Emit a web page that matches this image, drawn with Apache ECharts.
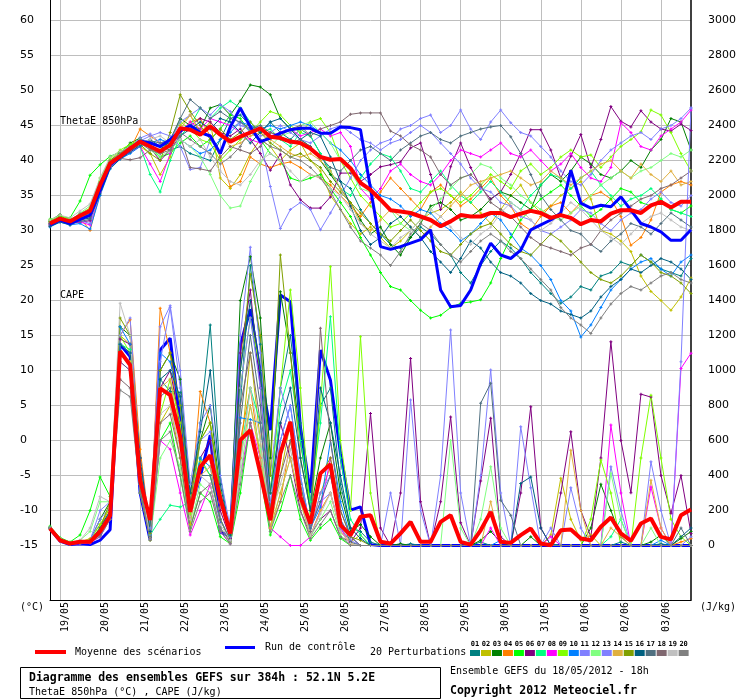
<!DOCTYPE html>
<html><head><meta charset="utf-8">
<script src="https://cdn.jsdelivr.net/npm/echarts@6/dist/echarts.min.js"></script>
<style>html,body{margin:0;padding:0;background:#fff}#c{width:740px;height:700px}</style>
</head><body><div id="c"></div>
<script>
// ---------- time categories ----------
const dayLabels = ['18/05','19/05','20/05','21/05','22/05','23/05','24/05','25/05','26/05','27/05','28/05','29/05','30/05','31/05','01/06','02/06','03/06'];
const hourLabels = ['00h','06h','12h','18h'];
const categories = ['18/05 18h'];
for (let d = 1; d < dayLabels.length; d++) for (const h of hourLabels) categories.push(dayLabels[d] + ' ' + h);

// ---------- ThetaE 850hPa (°C) ----------
const thetaMean = [31.0,31.7,31.3,32.1,32.8,36.5,39.6,40.6,41.7,42.7,42.0,41.3,42.2,44.6,44.4,43.7,44.9,43.7,42.7,43.4,44.0,44.6,43.4,43.2,42.7,42.5,41.7,40.5,40.1,40.2,38.9,36.8,35.8,34.4,32.9,32.7,32.5,32.0,31.5,30.6,31.3,32.2,32.0,32.0,32.5,32.5,31.9,32.4,32.8,32.5,31.8,32.2,31.8,30.9,31.5,31.3,32.4,32.9,32.9,32.5,33.6,34.1,33.3,34.1,34.1];
const thetaControl = [30.8,31.5,31.0,31.6,32.2,35.8,39.4,40.5,41.6,42.8,42.5,42.0,43.0, 44.2,45.0,44.0,43.5,41.0,44.8,47.5,44.8,42.7,43.2,43.9,44.4,44.6, 44.6,43.9,43.9,44.8,44.7,44.4,36.0,27.7,27.3,27.7,28.2,28.7,30.1, 21.5,19.1,19.3,21.5,25.3,28.2,26.5,26.0,27.2,30.1,30.8,31.5,32.5, 38.6,33.9,33.2,33.6,33.4,34.8,32.9,31.0,30.5,29.8,28.6,28.6,30.1];
const thetaP01 = [31.2,31.9,31.0,31.8,32.5,36.0,39.5,40.8,41.8,42.5,43.0,42.0,41.5, 42.0,41.0,40.5,40.0,43.0,46.0,46.5,45.0,44.0,45.5,44.0,43.0,44.5, 43.5,41.0,38.0,37.0,36.0,33.0,31.0,29.5,28.0,27.5,29.0,30.5,29.5, 28.0,26.5,24.0,22.5,25.0,27.0,28.5,27.5,26.0,24.0,22.5,21.0,19.6, 20.5,22.0,21.5,23.5,24.0,25.5,25.0,26.5,25.5,24.5,24.0,23.5,26.0];
const thetaP02 = [31.0,31.6,31.2,32.4,33.2,37.0,40.0,40.8,41.5,42.0,41.0,38.0,40.5, 45.0,46.5,44.0,45.5,37.5,36.0,38.0,41.0,43.0,42.0,40.0,41.5,42.5, 40.0,38.5,35.0,33.0,31.0,29.5,30.5,29.0,27.5,28.5,30.0,31.5,32.5, 33.0,34.0,35.5,34.0,32.5,31.0,33.0,35.0,36.5,34.0,32.5,33.5,35.0, 36.0,37.0,34.5,30.0,29.5,28.5,27.0,23.5,21.3,20.0,18.6,20.5,23.2];
const thetaP03 = [31.4,32.3,31.0,31.6,32.6,36.8,39.8,41.0,42.5,43.2,42.0,41.5,42.8, 46.0,45.0,44.5,47.5,48.0,46.5,48.5,50.8,50.5,49.4,46.0,44.5,43.0, 42.0,40.0,38.0,36.0,34.0,31.5,29.5,30.5,28.0,26.5,29.0,31.0,33.5, 34.0,33.0,31.5,32.0,33.0,34.5,35.5,35.0,34.0,33.0,36.5,38.0,37.0, 38.5,40.5,39.5,38.0,37.5,38.5,40.0,39.0,41.5,43.0,46.0,45.5,41.5];
const thetaP04 = [30.6,31.3,31.0,31.8,30.0,35.5,39.2,40.4,41.6,44.5,43.5,42.5,42.0, 44.0,45.5,46.0,43.5,40.5,36.3,37.0,40.5,39.5,39.0,39.5,39.8,39.0, 38.0,37.5,36.5,35.0,33.5,32.0,34.0,35.5,37.5,36.0,34.5,33.0,35.5, 36.5,35.0,33.5,34.5,36.0,37.5,35.0,33.5,31.0,30.0,32.0,33.5,34.0, 32.5,34.0,35.0,35.5,34.5,32.0,27.9,29.0,31.5,35.5,36.5,37.0,36.5];
const thetaP05 = [31.6,32.0,31.8,34.2,37.9,39.4,40.6,41.2,42.2,42.8,42.0,40.5,41.0, 42.5,43.5,42.0,43.0,44.5,46.5,46.0,44.0,43.0,41.0,40.0,37.5,37.0, 37.5,38.0,36.0,34.0,32.0,29.0,26.5,24.0,22.0,21.5,20.0,18.6,17.5, 17.9,19.0,19.6,19.8,20.1,22.5,26.0,29.0,31.5,33.0,34.5,35.5,36.5, 35.0,33.5,32.0,33.0,34.5,36.0,35.5,34.0,33.5,34.5,33.0,32.5,33.5];
const thetaP06 = [30.8,31.5,31.0,31.2,31.4,35.8,39.4,40.5,41.5,42.6,41.8,40.0,41.5, 44.5,45.0,46.0,45.5,44.0,43.5,44.5,43.0,41.0,38.6,40.9,36.5,34.4, 33.2,33.2,34.8,38.2,38.2,37.0,38.0,39.1,39.4,39.8,41.8,42.5,38.0, 33.0,39.1,42.5,39.0,36.2,34.5,35.5,38.0,41.0,44.4,44.4,41.5,37.5, 40.6,43.7,39.0,43.0,47.7,45.6,44.8,47.1,45.5,44.5,44.2,45.2,44.3];
const thetaP07 = [31.3,31.8,31.5,32.0,32.4,36.2,39.5,40.8,42.0,42.0,38.0,35.5,40.0, 43.5,45.0,47.5,46.0,47.5,48.5,47.5,45.5,44.0,44.5,43.0,42.0,44.0, 43.5,41.0,38.5,36.0,35.0,37.5,39.5,41.0,40.5,38.5,36.0,35.5,37.0, 38.5,36.5,35.0,34.0,35.5,37.0,35.5,34.0,33.0,35.0,36.5,38.0,37.5, 36.0,37.5,38.5,36.5,35.0,33.5,34.5,35.0,36.0,34.5,33.0,32.5,32.0];
const thetaP08 = [30.9,31.4,31.1,31.2,30.8,35.5,39.0,40.4,41.2,42.0,39.5,37.0,41.0, 44.0,45.5,44.5,46.0,45.5,45.0,44.0,43.0,42.5,43.5,44.0,44.5,43.5, 44.0,44.5,43.5,44.0,42.0,36.0,34.5,36.0,38.5,39.5,38.0,37.0,36.5, 38.0,40.0,41.5,41.0,40.5,41.5,42.5,41.0,40.5,41.5,40.0,38.5,39.5, 41.0,39.0,37.5,37.0,39.0,45.4,44.0,42.0,41.5,43.5,44.5,45.5,47.2];
const thetaP09 = [31.5,32.1,31.6,32.2,33.0,37.5,40.2,41.5,42.3,43.0,42.5,42.0,43.0, 45.5,44.5,43.0,42.5,40.0,41.5,43.0,44.0,45.5,47.0,46.5,45.0,44.0, 45.5,46.0,44.0,40.0,37.5,35.0,33.5,32.0,30.5,31.0,32.5,34.0,35.5, 36.0,35.0,34.0,35.0,36.5,38.0,37.0,36.0,38.5,39.5,38.0,39.0,40.5, 41.5,40.5,40.8,39.0,40.5,42.0,43.0,44.1,47.2,46.5,44.0,41.0,38.5];
const thetaP10 = [30.5,31.2,30.8,31.0,30.2,35.0,38.8,40.2,41.0,42.0,42.5,43.0,42.5, 43.0,42.0,41.0,41.5,43.0,44.0,45.5,45.0,44.5,45.0,44.5,45.0,45.5, 45.0,44.0,42.5,41.5,40.0,38.0,36.5,35.0,34.5,33.5,32.0,33.0,32.5, 31.0,30.0,28.5,29.5,31.0,32.5,31.5,29.5,27.5,26.5,25.0,23.0,20.0, 18.5,14.8,16.5,19.0,21.5,23.0,24.5,25.5,26.0,24.5,23.5,25.5,26.5];
const thetaP11 = [30.7,31.3,30.9,31.4,31.0,35.5,39.0,40.5,41.6,42.8,43.5,44.0,43.5, 42.0,38.7,39.0,43.0,41.0,44.5,45.5,44.0,43.0,36.3,30.3,33.0,34.0, 33.0,30.1,32.5,35.0,37.5,40.0,41.5,42.5,43.0,44.5,45.0,46.0,46.5, 44.0,45.0,47.2,44.5,43.0,45.5,47.2,45.4,44.0,43.5,42.0,40.5,38.5, 37.0,36.5,38.0,40.0,41.5,42.5,43.5,44.0,43.0,44.5,45.0,46.0,47.5];
const thetaP12 = [31.2,31.7,31.4,32.5,33.5,37.2,40.0,40.9,41.8,42.5,41.5,40.5,41.5, 43.0,42.0,40.5,38.0,35.0,33.2,33.5,37.0,39.5,42.0,43.5,44.0,45.0, 45.5,44.0,42.5,40.0,38.5,36.0,35.5,34.5,33.0,31.0,30.0,31.5,33.0, 34.5,36.0,37.5,38.0,39.5,39.0,37.5,36.5,35.0,34.0,33.0,32.0,31.5, 32.5,33.5,35.0,36.5,37.5,38.5,37.5,38.5,39.0,40.0,41.0,40.5,41.5];
const thetaP13 = [31.0,31.6,31.2,32.0,32.5,36.5,39.8,40.7,41.9,43.2,43.8,42.5,42.8, 45.5,46.5,47.5,46.5,48.0,47.0,45.0,44.5,43.5,44.0,45.0,44.0,43.0, 42.5,43.5,44.5,45.0,44.0,43.0,42.5,41.5,42.5,43.0,44.0,45.0,44.0, 42.5,41.0,39.5,37.5,36.0,35.5,34.0,33.5,32.0,31.5,30.0,29.5,30.5, 31.5,33.0,32.5,31.0,30.0,31.5,32.5,33.0,34.5,35.5,34.0,33.5,35.0];
const thetaP14 = [31.1,31.5,31.2,31.9,32.2,36.0,39.3,40.5,41.5,42.6,42.0,41.5,42.0, 44.5,46.5,44.0,45.0,44.0,42.0,42.5,43.5,44.0,43.0,42.0,41.0,40.5, 41.0,40.0,38.5,36.0,34.0,31.0,30.0,31.5,33.0,32.0,30.5,29.0,30.5, 32.0,33.5,35.0,36.5,37.0,37.5,38.0,38.5,37.5,36.5,37.0,38.5,37.5, 36.5,37.5,38.5,39.5,40.0,38.5,37.5,39.5,38.0,37.0,38.5,36.5,37.0];
const thetaP15 = [31.3,31.9,31.3,32.3,32.9,36.8,40.0,41.2,42.0,42.3,41.0,40.0,44.0, 49.4,47.0,45.0,43.0,44.5,43.0,44.0,45.5,44.0,42.5,41.5,40.5,41.0, 40.0,39.0,37.0,35.5,34.0,32.5,31.0,29.5,28.5,30.0,31.5,30.0,28.5, 27.0,26.5,28.0,29.5,30.5,31.0,29.5,28.0,27.0,26.5,28.0,29.5,28.5, 27.0,25.5,24.0,23.0,22.5,23.5,25.0,26.5,25.5,24.0,23.5,22.5,21.0];
const thetaP16 = [30.6,31.2,30.8,31.5,31.8,35.2,38.9,40.2,41.2,42.2,42.5,42.0,42.5, 43.5,44.5,45.5,44.5,46.0,45.5,44.0,42.5,44.0,45.5,46.0,44.5,43.0, 44.0,43.5,40.5,37.0,33.5,30.0,28.0,29.0,31.0,32.0,30.5,29.0,27.0, 25.5,24.0,26.0,28.5,27.5,25.5,24.0,23.5,22.5,21.0,20.0,19.5,18.5, 18.0,17.5,18.5,20.5,22.0,23.0,24.5,24.0,25.0,26.0,25.5,24.5,23.0];
const thetaP17 = [30.9,31.5,31.0,31.3,31.6,35.6,39.2,40.5,41.3,42.4,42.8,42.5,43.0, 46.0,48.7,47.5,46.0,47.0,46.0,45.5,44.5,45.0,44.0,43.5,42.5,43.0, 42.0,40.5,39.0,38.5,40.0,41.5,42.0,41.0,40.0,41.5,42.5,43.5,44.0, 43.0,42.5,43.5,44.0,44.5,44.8,45.0,43.4,41.0,38.0,35.0,33.0,31.5, 30.0,29.5,28.0,27.0,28.5,29.5,31.0,30.5,29.5,31.0,32.5,31.5,30.5];
const thetaP18 = [31.0,31.5,31.2,31.7,32.0,36.2,39.4,40.3,40.1,40.4,41.5,41.0,41.5, 43.5,39.0,38.8,38.5,40.5,42.0,41.5,41.0,42.0,44.0,43.5,44.5,45.0, 43.5,44.5,45.0,45.5,46.6,46.8,46.8,46.8,44.2,43.5,42.2,41.5,40.5, 38.0,36.5,37.5,38.0,36.5,34.0,33.0,32.0,30.5,29.0,28.0,27.5,27.0, 26.5,27.5,28.0,30.0,31.5,32.5,33.5,34.5,35.0,36.0,36.5,37.5,38.5];
const thetaP19 = [31.5,32.2,31.8,32.8,33.8,37.5,40.5,41.3,42.0,42.5,43.0,43.5,42.5, 43.0,42.0,43.0,40.5,38.5,37.0,36.5,38.0,40.0,41.0,40.0,38.5,37.0, 38.0,37.5,36.0,35.0,33.0,31.0,29.5,28.5,27.5,29.0,30.0,31.5,33.0, 32.0,30.5,29.0,28.0,29.5,30.5,32.5,34.0,33.0,31.5,30.0,31.0,32.5, 34.0,33.0,31.5,30.0,29.0,28.0,29.5,31.0,32.0,32.5,31.5,30.5,30.0];
const thetaP20 = [31.1,31.8,31.5,32.4,33.0,36.8,39.9,41.0,42.0,42.5,41.5,41.0,42.0, 44.0,43.0,42.0,41.0,39.5,40.5,42.0,44.5,43.0,42.0,41.5,40.5,40.0, 39.0,37.5,35.5,33.0,30.5,28.5,27.5,26.5,25.0,27.0,29.5,31.0,30.0, 28.0,26.5,25.5,27.0,28.5,29.5,28.5,27.0,26.0,24.5,23.0,21.5,19.0, 17.5,16.5,15.3,17.5,19.5,21.0,22.0,21.5,22.5,23.5,24.0,23.0,22.5];

// ---------- CAPE (J/kg) ----------
const capeMean = [97,30,11,21,21,80,170,1110,1031,373,145,898,859,621,192,450,516,269,69,602,659,412,145,526,707,278,126,412,465,116,59,164,173,21,11,69,135,21,21,135,173,21,5,87,192,21,15,59,97,11,2,87,91,40,30,107,160,69,27,126,154,49,35,173,206];
const capeControl = [95,25,5,10,5,30,90,1150,1080,300,30,1117,1184, 700,202,392,631,78,50,1145,1350,985,659,1431,1393,678, 300,1117,945,527,202,221,5,0,0,0,0,0,0, 0,0,0,0,0,0,0,0,0,0,0,0,0, 0,0,0,0,0,0,0,0,0,0,0,0,0];
const capeP01 = [100,35,10,15,25,60,200,1150,1100,450,60,950,880, 875,250,700,1260,400,50,800,1600,1150,300,900,1200,700, 250,800,900,350,100,80,20,0,0,0,10,0,0, 0,0,0,0,20,0,0,0,0,0,0,10,0, 0,0,0,0,0,20,0,0,0,10,0,0,0];
const capeP02 = [100,30,12,20,40,120,180,1200,1150,350,30,700,800, 500,120,480,400,150,20,500,1100,600,100,400,700,350, 80,300,450,100,20,60,0,0,0,0,0,0,0, 0,0,0,0,0,0,0,0,0,0,0,60,385, 150,30,60,0,0,0,0,0,0,0,0,0,0];
const capeP03 = [105,40,15,25,30,150,250,1250,1200,500,50,1000,1100, 950,300,600,800,300,80,1400,1650,1300,500,1450,1100,600, 200,500,700,300,80,120,50,0,0,10,0,0,0, 0,0,0,0,30,80,20,0,0,50,0,0,0, 0,0,100,350,200,50,0,0,20,60,0,40,80];
const capeP04 = [95,25,8,12,20,100,220,1200,1290,550,80,1356,1100, 600,200,880,700,250,30,600,900,500,100,250,600,300, 50,200,300,80,10,0,0,0,0,0,0,0,0, 0,0,0,0,0,0,0,0,0,0,0,0,0, 0,0,0,0,0,0,0,0,0,0,0,20,40];
const capeP05 = [110,45,20,60,200,392,280,1100,1050,300,40,600,700, 400,100,300,250,50,10,300,700,400,60,200,400,150, 30,100,150,40,0,0,0,0,0,0,0,0,0, 0,0,0,0,0,0,0,0,0,0,0,0,0, 0,0,0,0,0,0,0,0,0,0,0,0,0];
const capeP06 = [100,30,10,15,20,80,180,1180,1150,400,50,900,1000, 700,150,500,600,200,40,1100,1460,900,200,700,500,200, 60,150,200,50,20,100,754,100,0,300,1069,250,0, 250,735,130,0,368,727,50,0,300,793,100,0,300, 650,200,50,500,1164,600,301,865,848,400,184,400,69];
const capeP07 = [100,30,10,18,25,90,200,1150,1120,420,60,150,230, 220,250,500,400,150,30,500,900,700,200,800,1000,600, 250,700,1307,500,150,60,0,0,0,0,0,0,0, 0,0,0,0,0,0,0,0,0,0,0,0,0, 0,0,0,0,50,150,0,0,0,0,0,0,0];
const capeP08 = [100,25,8,10,15,50,150,1050,1000,350,40,600,550, 300,60,200,350,80,10,400,700,500,100,50,0,0, 50,200,500,100,0,0,0,0,0,0,0,0,0, 0,0,0,0,0,100,0,0,0,0,0,50,0, 0,0,0,0,688,300,0,0,335,100,0,1012,1099];
const capeP09 = [100,35,12,20,30,120,220,1200,1100,380,50,750,950, 700,180,600,700,300,60,900,1300,1000,300,900,1460,900, 150,800,1593,600,200,1193,300,0,0,0,0,0,0, 0,0,0,0,0,0,0,0,0,0,0,0,0, 0,0,150,488,300,0,0,500,859,500,150,50,0];
const capeP10 = [95,25,8,12,20,70,180,1250,1150,450,80,1100,1050, 800,220,500,450,150,30,730,720,700,150,600,800,400, 100,220,600,250,50,0,0,0,0,0,0,0,0, 0,0,0,0,0,0,30,0,0,0,0,0,0, 0,0,0,0,0,0,0,0,0,30,0,0,0];
const capeP11 = [100,30,10,15,30,200,250,1150,1100,500,100,1250,1370, 1000,350,700,800,400,100,1200,1704,1100,400,900,700,300, 80,300,400,150,50,0,0,0,300,0,831,200,0, 400,1231,300,0,400,1003,300,0,678,330,0,100,0, 330,100,0,0,450,200,0,0,478,200,0,1050,2500];
const capeP12 = [105,40,15,30,80,250,250,1100,1050,350,30,500,600, 450,100,350,300,100,20,400,800,550,80,300,500,250, 50,150,250,60,0,0,0,0,0,0,0,0,0, 0,600,100,0,150,450,100,0,0,0,0,0,0, 0,0,0,0,413,150,0,0,100,0,0,0,0];
const capeP13 = [100,30,10,15,25,150,220,1200,1300,450,60,1050,1360, 900,250,600,650,250,50,900,1300,900,250,600,800,400, 100,250,300,100,30,0,0,0,0,0,0,0,0, 0,0,0,0,0,0,0,0,0,0,0,0,0, 0,0,0,0,0,0,0,0,0,0,0,0,50];
const capeP14 = [95,28,10,15,20,80,180,1100,1050,400,50,900,950, 600,150,400,450,150,30,500,800,500,100,300,500,250, 60,200,300,80,10,0,0,0,0,0,0,0,0, 0,0,0,0,0,250,0,0,0,0,0,0,0, 545,200,0,0,100,50,0,0,373,100,0,0,0];
const capeP15 = [100,35,12,20,30,100,250,1300,1200,450,70,1000,1100, 800,250,600,700,300,60,1000,1550,1200,400,1660,1100,500, 200,400,500,200,50,30,0,0,0,0,0,0,0, 0,0,0,0,0,0,0,0,0,0,0,0,0, 0,0,0,0,0,0,0,0,0,0,0,0,0];
const capeP16 = [100,30,10,15,25,100,200,1150,1100,500,80,950,1000, 850,300,650,1000,350,60,1000,1400,1000,300,700,900,500, 200,900,700,400,100,40,0,0,0,0,0,0,0, 0,0,0,0,0,0,0,0,355,392,100,0,0, 0,0,0,0,0,0,0,0,0,0,0,50,100];
const capeP17 = [100,30,10,15,20,80,180,1050,1000,350,50,850,900, 600,200,400,400,150,30,700,1200,800,200,500,700,350, 100,250,400,150,20,0,0,0,0,0,0,0,0, 0,0,0,0,813,927,259,173,0,0,0,0,0, 0,0,0,0,0,0,0,0,0,0,0,100,0];
const capeP18 = [100,30,10,15,20,60,150,950,900,300,30,700,750, 500,100,300,350,100,20,800,1100,700,150,400,600,300, 80,1242,600,200,50,0,0,0,0,0,0,0,0, 0,0,0,0,0,0,0,0,0,0,0,0,0, 0,0,0,0,0,0,0,0,0,0,0,0,0];
const capeP19 = [100,40,15,30,100,280,250,1384,1200,400,40,750,800, 550,150,400,350,120,30,450,900,600,150,350,550,280, 60,180,300,80,10,0,0,0,0,0,0,0,0, 0,0,0,0,0,0,0,0,0,0,0,0,0, 0,0,0,0,0,0,0,0,0,0,0,0,0];
const capeP20 = [100,30,10,15,20,50,150,888,850,300,40,600,650, 400,80,250,300,80,10,350,700,450,80,250,400,200, 40,120,200,50,0,0,0,0,0,0,0,0,0, 0,0,0,0,0,0,0,0,0,0,0,0,0, 0,0,0,0,0,0,0,0,0,0,0,0,0];

const thetaMembers = [thetaP01,thetaP02,thetaP03,thetaP04,thetaP05,thetaP06,thetaP07,thetaP08,thetaP09,thetaP10,thetaP11,thetaP12,thetaP13,thetaP14,thetaP15,thetaP16,thetaP17,thetaP18,thetaP19,thetaP20];
const capeMembers = [capeP01,capeP02,capeP03,capeP04,capeP05,capeP06,capeP07,capeP08,capeP09,capeP10,capeP11,capeP12,capeP13,capeP14,capeP15,capeP16,capeP17,capeP18,capeP19,capeP20];
const memberColors = ['#008080','#C0C000','#008000','#FF8000','#00FF00','#800080','#00FF80','#FF00FF','#80FF00','#0080FF','#8080FF','#80FF80','#8080FF','#E0B040','#80A000','#006080','#507080','#806870','#C0C0C0','#808080'];
const memberNames = ['01','02','03','04','05','06','07','08','09','10','11','12','13','14','15','16','17','18','19','20'];
const tempTicks = {min: -15, max: 60, step: 5};
const capeTicks = {min: 0, max: 3000, step: 200};

// ---------- chart ----------
const PLUS = 'path://M1 0h1v1h1v1h-1v1h-1v-1h-1v-1h1z';
const MONO = '"DejaVu Sans Mono", monospace';
const dayTick = (idx) => idx % 4 === 1;

function memberSeries(data, color, yIdx) {
  return {type:'line', xAxisIndex:1, yAxisIndex:yIdx, data:data, symbol:PLUS, symbolSize:3,
    showSymbol:true, showAllSymbol:true, symbolKeepAspect:true,
    itemStyle:{color:color}, lineStyle:{color:color, width:1}, z:3, silent:true,
    animation:false, emphasis:{disabled:true}};
}
function mainSeries(data, color, width, yIdx, z) {
  return {type:'line', xAxisIndex:1, yAxisIndex:yIdx, data:data, showSymbol:false, symbol:'none',
    lineStyle:{color:color, width:width}, itemStyle:{color:color}, z:z, silent:true, animation:false,
    emphasis:{disabled:true}};
}
const series = [];
series.push(mainSeries(capeControl, '#0000FF', 3, 3, 2));
thetaMembers.forEach((d,k) => series.push(memberSeries(d, memberColors[k], 2)));
capeMembers.forEach((d,k) => series.push(memberSeries(d, memberColors[k], 3)));
series.push(mainSeries(thetaControl, '#0000FF', 3, 2, 5));
series.push(mainSeries(thetaMean, '#FF0000', 4, 2, 6));
series.push(mainSeries(capeMean, '#FF0000', 4, 3, 6));

function txt(x, y, text, font, align) {
  return {type:'text', x:x, y:y, silent:true, z:10,
    style:{text:text, font:font, fill:'#000', align:align||'left', verticalAlign:'middle',
      textAlign:align||'left', textVerticalAlign:'middle'}};
}
const graphics = [
  txt(60, 121, 'ThetaE 850hPa', '10px ' + MONO),
  txt(60, 295, 'CAPE', '10px ' + MONO),
  txt(20, 607, '(°C)', '10px ' + MONO),
  txt(700, 607, '(J/kg)', '10px ' + MONO),
  {type:'rect', shape:{x:35, y:650, width:31, height:4}, style:{fill:'#FF0000'}, silent:true},
  txt(75, 652, 'Moyenne des scénarios', '10px ' + MONO),
  {type:'rect', shape:{x:225, y:646, width:30, height:3}, style:{fill:'#0000FF'}, silent:true},
  txt(265, 647.5, 'Run de contrôle', '10px ' + MONO),
  txt(370, 652.5, '20 Perturbations', '10px ' + MONO),
  {type:'rect', shape:{x:20.5, y:667.5, width:420, height:31}, style:{fill:'none', stroke:'#000', lineWidth:1}, silent:true},
  txt(29, 678.5, 'Diagramme des ensembles GEFS sur 384h : 52.1N 5.2E', 'bold 11.5px ' + MONO),
  txt(29, 692.5, 'ThetaE 850hPa (°C) , CAPE (J/kg)', '10px ' + MONO),
  txt(450, 671.5, 'Ensemble GEFS du 18/05/2012 - 18h', '10px ' + MONO),
  txt(450, 691.5, 'Copyright 2012 Meteociel.fr', 'bold 11.5px ' + MONO)
];
memberColors.forEach((c,k) => {
  const x0 = 470 + k * 10.98;
  graphics.push({type:'rect', shape:{x:x0, y:650, width:10, height:6}, style:{fill:c}, silent:true});
  graphics.push({type:'text', x:x0 + 5, y:644, silent:true,
    style:{text:memberNames[k], font:'bold 7px ' + MONO, fill:'#000', align:'center', verticalAlign:'middle', textAlign:'center', textVerticalAlign:'middle'}});
});

const gridColor = '#BEBEBE';
const option = {
  animation:false,
  backgroundColor:'#FFFFFF',
  grid:[
    {left:50, right:49, top:0, bottom:100, outerBoundsMode:'none', containLabel:false},
    {left:50, right:49, top:20.5, bottom:154.5, outerBoundsMode:'none', containLabel:false}
  ],
  xAxis:[
    {type:'category', gridIndex:0, data:categories, boundaryGap:false,
      axisLine:{show:true, onZero:false, lineStyle:{color:'#000', width:1}},
      axisTick:{show:false},
      splitLine:{show:true, interval:dayTick, lineStyle:{color:gridColor, width:1}},
      axisLabel:{show:true, interval:dayTick, rotate:90, margin:2, verticalAlign:'top',
        formatter:(v) => v.slice(0,5), fontFamily:'DejaVu Sans Mono', fontSize:10, color:'#000'}},
    {type:'category', gridIndex:1, data:categories, boundaryGap:false, show:false}
  ],
  yAxis:[
    {type:'value', gridIndex:0, position:'left', min:0, max:1,
      axisLine:{show:true, onZero:false, lineStyle:{color:'#000', width:1}},
      axisTick:{show:false}, axisLabel:{show:false}, splitLine:{show:false}},
    {type:'value', gridIndex:0, position:'right', min:0, max:1,
      axisLine:{show:true, onZero:false, lineStyle:{color:'#000', width:1.5}},
      axisTick:{show:false}, axisLabel:{show:false}, splitLine:{show:false}},
    {type:'value', gridIndex:1, position:'left', min:tempTicks.min, max:tempTicks.max, interval:tempTicks.step,
      axisLine:{show:false}, axisTick:{show:false},
      axisLabel:{show:true, align:'left', margin:30, fontFamily:'DejaVu Sans', fontSize:11, color:'#000',
        formatter:(v) => String(v)},
      splitLine:{show:true, lineStyle:{color:gridColor, width:1}}},
    {type:'value', gridIndex:1, position:'right', min:capeTicks.min, max:capeTicks.max, interval:capeTicks.step,
      axisLine:{show:false}, axisTick:{show:false},
      axisLabel:{show:true, align:'left', margin:17, fontFamily:'DejaVu Sans', fontSize:11, color:'#000',
        formatter:(v) => String(v)},
      splitLine:{show:false}}
  ],
  graphic:graphics,
  series:series
};
const chart = echarts.init(document.getElementById('c'), null, {renderer:'canvas', width:740, height:700});
chart.setOption(option);
</script></body></html>
